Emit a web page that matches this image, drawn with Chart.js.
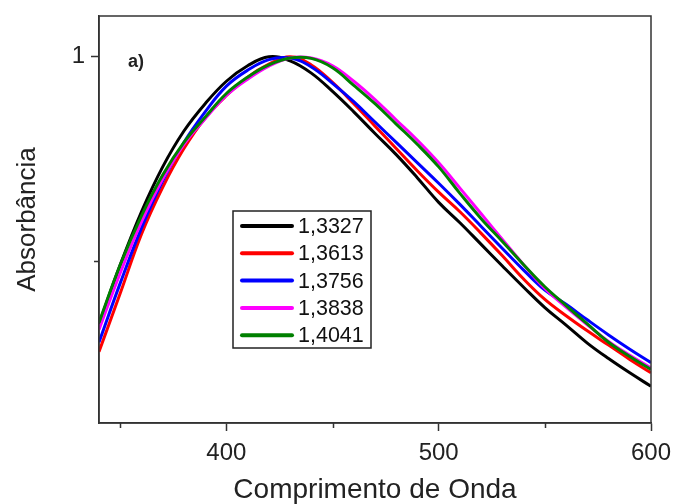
<!DOCTYPE html>
<html>
<head>
<meta charset="utf-8">
<script src="https://cdn.jsdelivr.net/npm/chart.js@4.4.1/dist/chart.umd.min.js"></script>
<style>
html,body{margin:0;padding:0;background:#fff;}
#wrap{width:673px;height:504px;position:relative;}
</style>
</head>
<body>
<div id="wrap"><canvas id="c" width="673" height="504"></canvas></div>
<script>
// ---- data ----
const wavelengths = [340,350,360,370,380,390,400,410,420,430,440,450,460,470,480,490,500,510,520,530,540,550,560,570,580,590,600];
const seriesLabels = ['1,3327','1,3613','1,3756','1,3838','1,4041'];
const seriesColors = ['#000000','#ff0000','#0000ff','#ff00ff','#008000'];
const abs13327 = [0.345,0.490,0.620,0.730,0.818,0.885,0.940,0.978,1.000,0.990,0.960,0.915,0.865,0.812,0.760,0.703,0.643,0.593,0.540,0.487,0.435,0.385,0.342,0.298,0.260,0.225,0.192];
const abs13613 = [0.277,0.420,0.565,0.680,0.775,0.850,0.905,0.950,0.982,1.000,0.980,0.937,0.885,0.830,0.775,0.720,0.668,0.620,0.567,0.512,0.455,0.405,0.365,0.328,0.293,0.258,0.225];
const abs13756 = [0.300,0.445,0.580,0.695,0.790,0.865,0.928,0.967,0.993,0.997,0.975,0.935,0.890,0.840,0.790,0.740,0.690,0.638,0.584,0.530,0.477,0.428,0.393,0.355,0.318,0.283,0.250];
const abs13838 = [0.331,0.470,0.595,0.700,0.785,0.848,0.905,0.945,0.977,0.997,0.997,0.978,0.940,0.895,0.845,0.795,0.740,0.678,0.615,0.552,0.490,0.432,0.386,0.343,0.302,0.268,0.237];
const abs14041 = [0.348,0.490,0.610,0.710,0.790,0.852,0.910,0.950,0.980,0.997,0.996,0.973,0.930,0.885,0.835,0.785,0.730,0.665,0.603,0.547,0.490,0.436,0.390,0.345,0.300,0.265,0.233];
const seriesValues = [abs13327, abs13613, abs13756, abs13838, abs14041];
const xMajorTicks = [400,500,600];
const xMinorTicks = [350,450,550];
const yMajorTicks = [1];
const yMinorTicks = [0.5];
const xTitle = 'Comprimento de Onda';
const yTitle = 'Absorbância';
const panelLabel = 'a)';

const AXIS = '#333333';
const FONT = "'Liberation Sans', Arial, sans-serif";

const datasets = seriesValues.map((vals, i) => ({
  label: seriesLabels[i],
  data: wavelengths.map((w, j) => ({x: w, y: vals[j]})),
  borderColor: seriesColors[i],
  backgroundColor: seriesColors[i],
  borderWidth: 3,
  pointRadius: 0,
  tension: 0.4,
  fill: false,
  order: seriesValues.length - i
}));

const extrasPlugin = {
  id: 'extras',
  afterDatasetsDraw(chart) {
    const ctx = chart.ctx;
    const a = chart.chartArea;
    const xs = chart.scales.x, ys = chart.scales.y;
    ctx.save();
    // frame
    ctx.strokeStyle = AXIS;
    ctx.lineWidth = 1.5;
    ctx.strokeRect(a.left, a.top, a.right - a.left, a.bottom - a.top);
    // minor ticks
    ctx.beginPath();
    xMinorTicks.forEach(v => {
      const px = Math.round(xs.getPixelForValue(v)) + 0.5;
      ctx.moveTo(px, a.bottom); ctx.lineTo(px, a.bottom + 5);
    });
    yMinorTicks.forEach(v => {
      const py = Math.round(ys.getPixelForValue(v)) + 0.5;
      ctx.moveTo(a.left, py); ctx.lineTo(a.left - 5, py);
    });
    ctx.stroke();
    // panel label
    ctx.fillStyle = '#222';
    ctx.font = 'bold 18px ' + FONT;
    ctx.textBaseline = 'alphabetic';
    ctx.textAlign = 'left';
    ctx.fillText(panelLabel, a.left + 29, a.top + 51);
    // legend
    const bx = a.left + 134, by = a.top + 195, bw = 138, bh = 137;
    ctx.fillStyle = '#fff';
    ctx.fillRect(bx, by, bw, bh);
    ctx.strokeStyle = '#222';
    ctx.lineWidth = 1.5;
    ctx.strokeRect(bx, by, bw, bh);
    ctx.font = '21.5px ' + FONT;
    ctx.textBaseline = 'middle';
    chart.data.datasets.forEach((ds, i) => {
      const cy = by + 15 + i * 27.3;
      ctx.strokeStyle = ds.borderColor;
      ctx.lineWidth = 4;
      ctx.lineCap = 'round';
      ctx.beginPath();
      ctx.moveTo(bx + 9, cy); ctx.lineTo(bx + 59, cy);
      ctx.stroke();
      ctx.fillStyle = '#111';
      ctx.fillText(ds.label, bx + 65, cy + 1);
    });
    ctx.restore();
  }
};

new Chart(document.getElementById('c'), {
  type: 'line',
  data: { datasets },
  options: {
    responsive: false,
    animation: false,
    devicePixelRatio: 1,
    layout: { padding: { top: 16, right: 22, left: 0, bottom: 0 } },
    plugins: { legend: { display: false }, tooltip: { enabled: false } },
    scales: {
      x: {
        type: 'linear',
        min: 340, max: 600,
        afterBuildTicks: s => { s.ticks = xMajorTicks.map(v => ({value: v})); },
        afterFit: s => { s.height = 81; s.paddingLeft = 0; s.paddingRight = 0; },
        grid: { display: true, drawOnChartArea: false, drawTicks: true, tickLength: 8, tickColor: AXIS, tickWidth: 1.5 },
        border: { display: true, color: AXIS, width: 1.5 },
        ticks: { color: '#222', font: { family: FONT, size: 24 }, padding: 8, maxRotation: 0 },
        title: { display: true, text: xTitle, color: '#222', font: { family: FONT, size: 28, lineHeight: 1.0 }, padding: { top: 4, bottom: 0 } }
      },
      y: {
        type: 'linear',
        min: 0.102, max: 1.1,
        afterBuildTicks: s => { s.ticks = yMajorTicks.map(v => ({value: v})); },
        afterFit: s => { s.width = 99; s.paddingTop = 0; s.paddingBottom = 0; },
        grid: { display: true, drawOnChartArea: false, drawTicks: true, tickLength: 8, tickColor: AXIS, tickWidth: 1.5 },
        border: { display: true, color: AXIS, width: 1.5 },
        ticks: { color: '#222', font: { family: FONT, size: 24 }, padding: 6, callback: v => String(v) },
        title: { display: true, text: yTitle, color: '#222', font: { family: FONT, size: 26 }, padding: { bottom: 0, top: 12 } }
      }
    }
  },
  plugins: [extrasPlugin]
});
</script>
</body>
</html>
